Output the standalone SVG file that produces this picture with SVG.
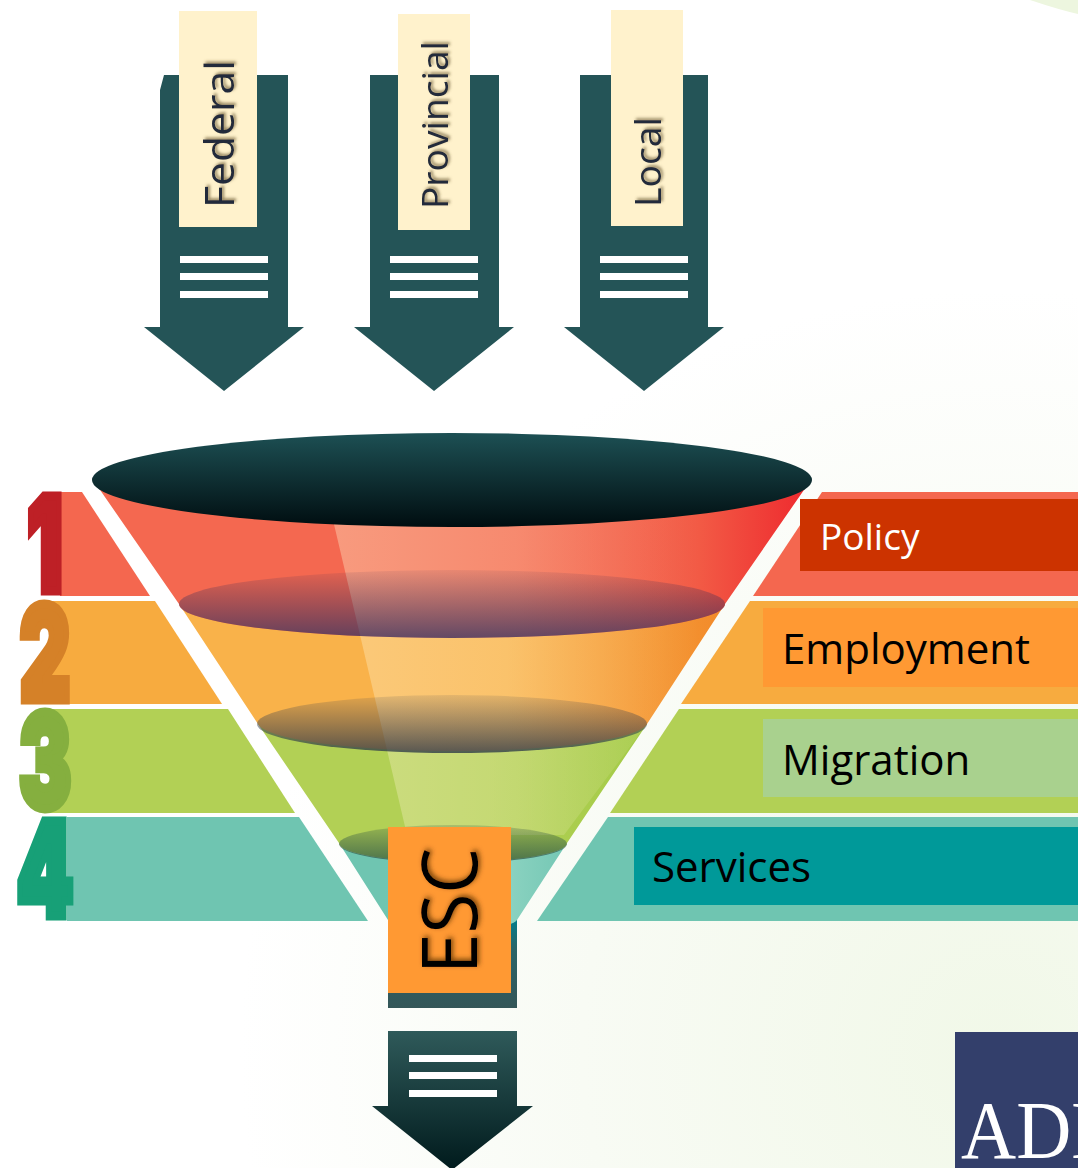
<svg xmlns="http://www.w3.org/2000/svg" width="1078" height="1168" viewBox="0 0 1078 1168">
<style>
.sans{font-family:"Open Sans","Noto Sans","Liberation Sans",sans-serif}
.arr{fill:#245457}
.line{fill:#fff}
.cream{fill:#FFF2CC}
.lvl{font-size:37px;fill:#222B3A;filter:url(#soft)}
.lab{font-size:42px;fill:#000}
.num{font-family:Inter,"Liberation Sans",sans-serif;font-weight:900;font-size:130px;stroke-width:9px;stroke-linejoin:miter;text-anchor:middle}
</style>
<defs>
<filter id="soft" x="-20%" y="-20%" width="140%" height="140%"><feDropShadow dx="2" dy="2" stdDeviation="1.5" flood-color="#6b5a30" flood-opacity=".7"/></filter>
<filter id="soft2" x="-20%" y="-20%" width="140%" height="140%"><feDropShadow dx="2" dy="2" stdDeviation="2.5" flood-color="#5a3000" flood-opacity=".8"/></filter>
<radialGradient id="bg" gradientUnits="userSpaceOnUse" cx="1000" cy="1050" r="760"><stop offset="0" stop-color="#F1F8E8"/><stop offset=".55" stop-color="#F8FBF4"/><stop offset="1" stop-color="#FFFFFF"/></radialGradient>
<linearGradient id="rim" x1="0" y1="0" x2="0" y2="1"><stop offset="0" stop-color="#1D5054"/><stop offset="1" stop-color="#000D10"/></linearGradient>
<linearGradient id="red" gradientUnits="userSpaceOnUse" x1="100" y1="0" x2="805" y2="0"><stop offset=".6" stop-color="#F46850"/><stop offset=".85" stop-color="#F25A45"/><stop offset="1" stop-color="#EE2B2F"/></linearGradient>
<linearGradient id="org" gradientUnits="userSpaceOnUse" x1="179" y1="0" x2="725" y2="0"><stop offset=".6" stop-color="#F9B24A"/><stop offset="1" stop-color="#F28A2A"/></linearGradient>
<linearGradient id="grn" gradientUnits="userSpaceOnUse" x1="258" y1="0" x2="647" y2="0"><stop offset=".6" stop-color="#B2D055"/><stop offset="1" stop-color="#A4CB48"/></linearGradient>
<linearGradient id="tea" gradientUnits="userSpaceOnUse" x1="339" y1="0" x2="567" y2="0"><stop offset=".2" stop-color="#6FC5B1"/><stop offset=".75" stop-color="#8AD2C0"/><stop offset="1" stop-color="#74C7B4"/></linearGradient>
<linearGradient id="shine" gradientUnits="userSpaceOnUse" x1="333" y1="0" x2="700" y2="0"><stop offset="0" stop-color="#FFF4D0" stop-opacity=".36"/><stop offset=".5" stop-color="#FFF4D0" stop-opacity=".24"/><stop offset="1" stop-color="#FFF4D0" stop-opacity="0"/></linearGradient>
<linearGradient id="e1" x1="0" y1="0" x2="0" y2="1"><stop offset="0" stop-color="#3B2B55" stop-opacity=".08"/><stop offset="1" stop-color="#3A3560" stop-opacity=".78"/></linearGradient>
<linearGradient id="e2" x1="0" y1="0" x2="0" y2="1"><stop offset="0" stop-color="#3A4050" stop-opacity=".12"/><stop offset="1" stop-color="#2F3B48" stop-opacity=".8"/></linearGradient>
<linearGradient id="e3" x1="0" y1="0" x2="0" y2="1"><stop offset="0" stop-color="#2F5040" stop-opacity=".2"/><stop offset="1" stop-color="#2F5A4A" stop-opacity=".8"/></linearGradient>
<linearGradient id="tail" x1="0" y1="0" x2="0" y2="1"><stop offset="0" stop-color="#00808E"/><stop offset=".35" stop-color="#2A6468"/><stop offset="1" stop-color="#345658"/></linearGradient>
<linearGradient id="down" x1="0" y1="0" x2="0" y2="1"><stop offset="0" stop-color="#2F5A5A"/><stop offset="1" stop-color="#001A1C"/></linearGradient>
</defs>

<rect id="background" width="1078" height="1168" fill="url(#bg)"/>
<path d="M1030 0Q1060 10 1078 14V0Z" fill="#EDF6DF"/>

<g id="bands">
<path d="M60 492H82L150 596H60Z" fill="#F4674F"/>
<path d="M50 601H155L222 704H50Z" fill="#F7AB3F"/>
<path d="M50 709H228L295 813H50Z" fill="#B2D055"/>
<path d="M67 817H299L368 921H67Z" fill="#6FC5B1"/>
<path d="M822 492H1078V596H753Z" fill="#F4674F"/>
<path d="M750 601H1078V704H681Z" fill="#F7AB3F"/>
<path d="M679 709H1078V813H610Z" fill="#B2D055"/>
<path d="M608 817H1078V921H537Z" fill="#6FC5B1"/>
</g>

<g id="numerals">
<text class="num" transform="translate(45 591) scale(.6 1)" fill="#BE2026" stroke="#BE2026">1</text>
<text class="num" transform="translate(45 700) scale(.6 1)" fill="#D58128" stroke="#D58128">2</text>
<text class="num" transform="translate(45 808) scale(.6 1)" fill="#85AF3F" stroke="#85AF3F">3</text>
<text class="num" transform="translate(45 916) scale(.62 1)" fill="#17A077" stroke="#17A077">4</text>
</g>

<g id="funnel">
<rect id="esc-tail" x="388" y="917" width="129" height="91" fill="url(#tail)"/>
<path d="M339 843A114 19 0 0 0 567 843L517 920Q505 935 388 920Z" fill="url(#tea)"/>
<path d="M258 724L339 843A114 19 0 0 0 567 843L647 724Z" fill="url(#grn)"/>
<path d="M179 604L258 724A195 29 0 0 0 647 724L725 604Z" fill="url(#org)"/>
<path d="M98 487L179 604A273 34 0 0 0 725 604L806 487Z" fill="url(#red)"/>
<path d="M333 520L407 835H564L647 724L725 604L806 487Z" fill="url(#shine)"/>
<ellipse cx="452" cy="604" rx="273" ry="34" fill="url(#e1)"/>
<ellipse cx="452" cy="724" rx="195" ry="29" fill="url(#e2)"/>
<ellipse cx="453" cy="844" rx="114" ry="19" fill="url(#e3)"/>
<ellipse cx="452" cy="480" rx="360" ry="47" fill="url(#rim)"/>
</g>

<g id="label-policy"><rect x="800" y="499" width="278" height="72" fill="#CC3300"/><text class="sans" x="820" y="550" font-size="37" fill="#fff">Policy</text></g>
<g id="label-employment"><rect x="763" y="608" width="315" height="79" fill="#FF9933"/><text class="sans lab" x="782" y="664">Employment</text></g>
<g id="label-migration"><rect x="763" y="719" width="315" height="78" fill="#A9D18E"/><text class="sans lab" x="782" y="775">Migration</text></g>
<g id="label-services"><rect x="634" y="827" width="444" height="78" fill="#009999"/><text class="sans lab" x="652" y="882">Services</text></g>

<g id="federal">
<path class="arr" d="M164 75H288V327H304L224 391L144 327H160V90Z"/>
<rect class="line" x="180" y="256" width="88" height="7"/><rect class="line" x="180" y="273" width="88" height="7"/><rect class="line" x="180" y="291" width="88" height="7"/>
<rect class="cream" x="179" y="11" width="78" height="216"/>
<text class="sans lvl" style="font-size:41px" transform="translate(234 208) rotate(-90)" textLength="148" lengthAdjust="spacingAndGlyphs">Federal</text>
</g>
<g id="provincial">
<path class="arr" d="M370 75H499V327H514L434 391L354 327H370Z"/>
<rect class="line" x="390" y="256" width="88" height="7"/><rect class="line" x="390" y="273" width="88" height="7"/><rect class="line" x="390" y="291" width="88" height="7"/>
<rect class="cream" x="398" y="14" width="72" height="216"/>
<text class="sans lvl" transform="translate(448 209) rotate(-90)" textLength="168" lengthAdjust="spacingAndGlyphs">Provincial</text>
</g>
<g id="local">
<path class="arr" d="M580 75H708V327H724L644 391L564 327H580Z"/>
<rect class="line" x="600" y="256" width="88" height="7"/><rect class="line" x="600" y="273" width="88" height="7"/><rect class="line" x="600" y="291" width="88" height="7"/>
<rect class="cream" x="611" y="10" width="72" height="216"/>
<text class="sans lvl" transform="translate(661 207) rotate(-90)" textLength="90" lengthAdjust="spacingAndGlyphs">Local</text>
</g>

<g id="esc">
<rect x="388" y="827" width="123" height="166" fill="#FF9933"/>
<text class="sans" transform="translate(477 974) rotate(-90)" font-size="76" fill="#000" filter="url(#soft2)" textLength="126" lengthAdjust="spacingAndGlyphs">ESC</text>
</g>

<g id="output-arrow">
<path d="M388 1031H517V1106H533L452 1170L372 1106H388Z" fill="url(#down)"/>
<rect class="line" x="409" y="1055" width="88" height="7"/><rect class="line" x="409" y="1072" width="88" height="7"/><rect class="line" x="409" y="1090" width="88" height="7"/>
</g>

<g id="adb-logo">
<rect x="955" y="1032" width="123" height="136" fill="#333F6B"/>
<text transform="translate(961 1158) scale(.92 1)" font-family="Liberation Serif,serif" font-size="83" fill="#fff">ADB</text>
</g>
<g id="connectors"/>
</svg>
